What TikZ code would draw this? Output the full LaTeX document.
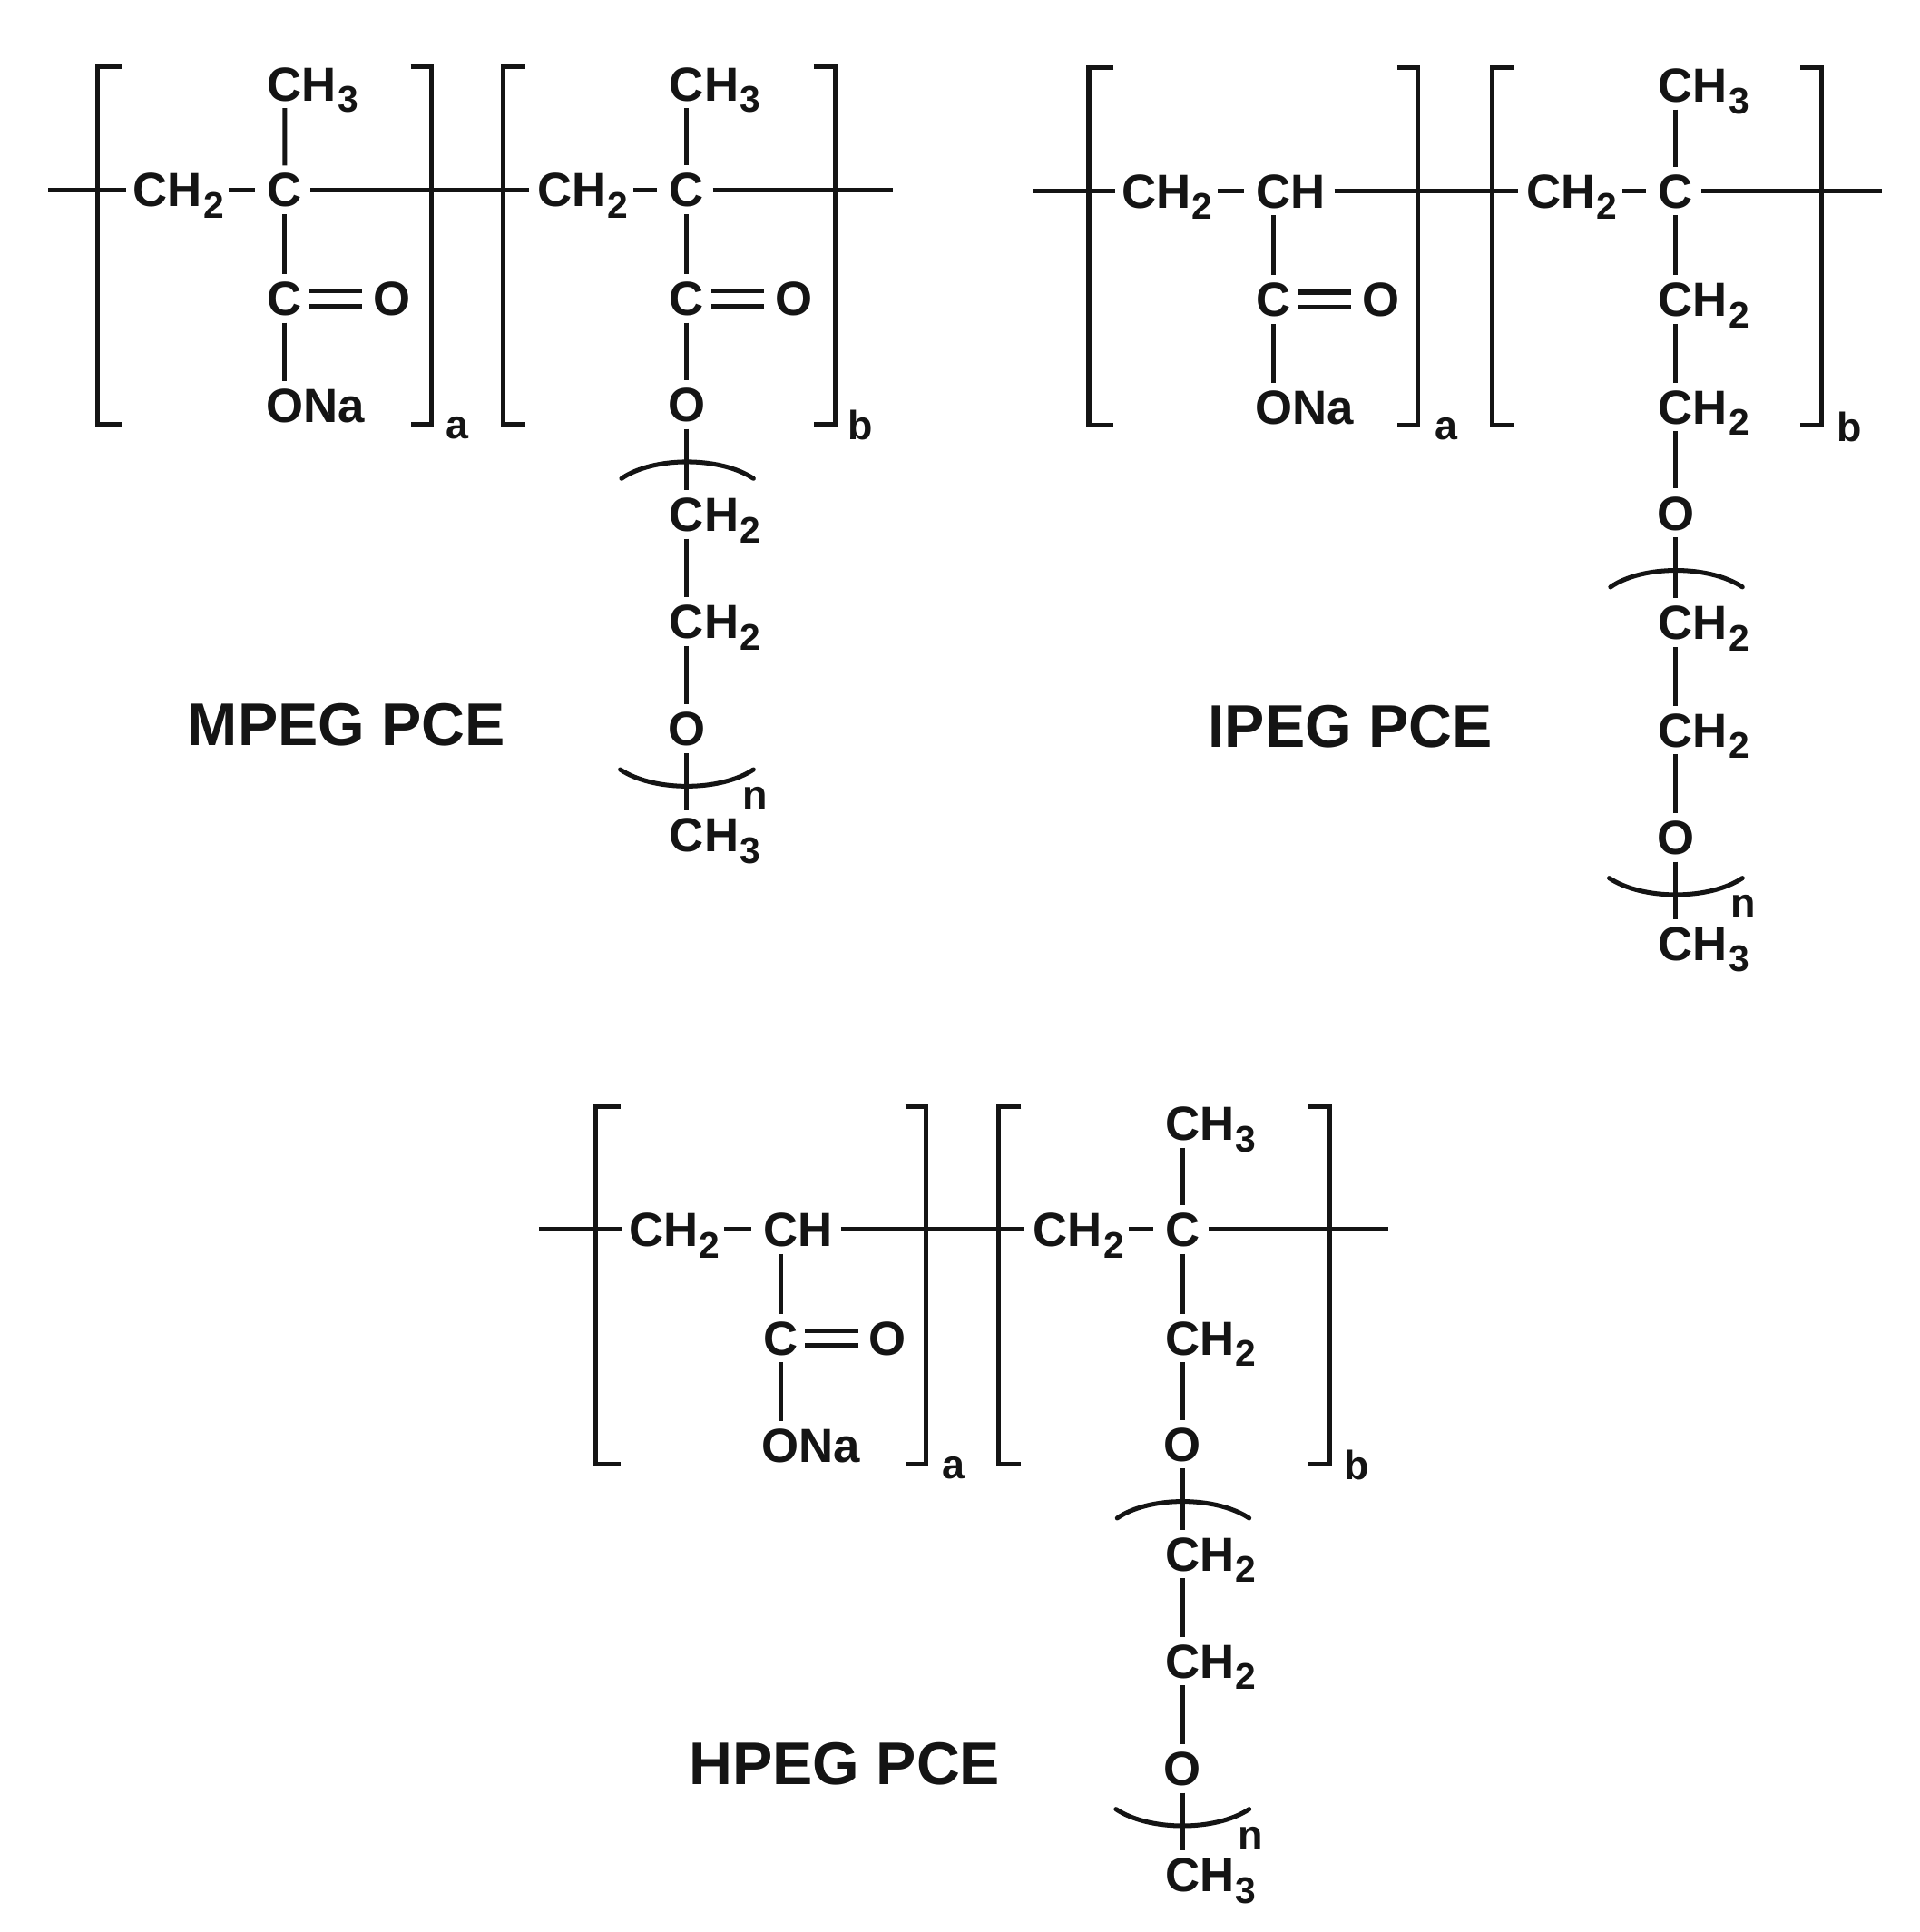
\documentclass[tikz,border=0pt]{standalone}
\usepackage{fontspec}
\setmainfont{Liberation Sans}
\usetikzlibrary{calc}
\newcommand\sbn[1]{\kern.4pt\raisebox{-.24em}{\fontsize{15}{15}\selectfont #1}}
\tikzset{
  chem/.style={inner sep=0pt,outer sep=0pt,text height=13.75pt,text depth=0pt,font=\fontsize{19.4}{20}\selectfont\bfseries,text=black!92},
  grp/.style={chem,anchor=west},
  idx/.style={inner sep=0pt,font=\fontsize{16.5}{17}\selectfont\bfseries,text=black!92},
  ttl/.style={inner sep=0pt,font=\fontsize{24.4}{26}\selectfont\bfseries,text=black!92},
  ln/.style={line width=1.85pt,black!92},
  hbond/.style={ln,shorten <=3.5pt,shorten >=3.5pt},
  vbond/.style={ln,shorten <=3pt,shorten >=3pt},
  dbond/.style={ln,double,double distance=4.2pt,shorten <=3pt,shorten >=4.5pt},
  arcline/.style={line width=1.85pt,black!92,line cap=round},
}
% brackets and labels; #1 = x of the first bracket, #2 = shift of the closing brackets
\newcommand\brackets[2]{%
  \draw[ln] (#1+20,54) -- (#1,54) -- (#1,344) -- (#1+20,344);
  \draw[ln] (333+#2,54) -- (350+#2,54) -- (350+#2,344) -- (333+#2,344);
  \draw[ln] (426,54) -- (408,54) -- (408,344) -- (426,344);
  \draw[ln] (660+#2,54) -- (677+#2,54) -- (677+#2,344) -- (660+#2,344);
  \node[idx] (la) at (371,347) {a};
  \node[idx] (lb) at (698,345) {b};
}
% backbone; #1 = text of the first backbone carbon, #2 = x of the free left end
\newcommand\backbone[2]{%
  \coordinate (start) at (#2,154);
  \coordinate (stop) at (724,154);
  \coordinate (axa) at (231,154);
  \coordinate (axb) at (557,154);
  \node[grp] (cha) at (108,154) {CH\sbn{2}};
  \node[grp] (ca) at (217,154) {#1};
  \node[grp] (chb) at (436,154) {CH\sbn{2}};
  \node[chem] (cb) at (557,154) {C};
  \draw[ln,shorten >=3pt] (start) -- (cha.west);
  \draw[ln,shorten <=2pt,shorten >=5pt] (cha.east) -- (ca.west);
  \draw[hbond] (ca.east) -- (chb.west);
  \draw[ln,shorten <=2pt,shorten >=5pt] (chb.east) -- (cb.west);
  \draw[ln,shorten <=3.5pt] (cb.east) -- (stop);
  \node[grp] (mb) at (543,68) {CH\sbn{3}};
  \draw[vbond] (axb |- mb.south) -- (cb.north);
}
% carboxylate of the first unit
\newcommand\acid{%
  \node[chem] (cc) at (231,242) {C};
  \node[chem] (co) at (318,242) {O};
  \node[grp] (na) at (216,329) {ONa};
  \draw[vbond] (axa |- ca.south) -- (cc.north);
  \draw[dbond] (cc.east) -- (co.west);
  \draw[vbond] (cc.south) -- (axa |- na.north);
}
% polyether arm hanging from node #1, with its first oxygen at height #2
\newcommand\pegarm[2]{%
  \node[grp] (pa) at (543,#2+88) {CH\sbn{2}};
  \node[grp] (pb) at (543,#2+175) {CH\sbn{2}};
  \node[chem] (po) at (557,#2+262) {O};
  \node[grp] (pm) at (543,#2+348) {CH\sbn{3}};
  \node[idx] (pn) at (612,#2+318) {n};
  \draw[vbond] (#1.south) -- (axb |- pa.north);
  \draw[vbond] (axb |- pa.south) -- (axb |- pb.north);
  \draw[vbond] (axb |- pb.south) -- (po.north);
  \draw[vbond] (po.south) -- (axb |- pm.north);
  \draw[arcline] (504,#2+59) .. controls (530,#2+41) and (584,#2+41) .. (611,#2+59);
  \draw[arcline] (503,#2+295) .. controls (530,#2+313) and (584,#2+313) .. (611,#2+295);
}
\begin{document}
\begin{tikzpicture}[x=.5pt,y=-.5pt]
\useasboundingbox[fill=white] (0,0) rectangle (1557,1566.6);

% MPEG PCE
\begin{scope}[name prefix=m-]
  \brackets{79}{0}
  \backbone{C}{39}
  \node[grp] (ma) at (217,68) {CH\sbn{3}};
  \draw[vbond] (axa |- ma.south) -- (ca.north);
  \acid
  \node[chem] (ec) at (557,242) {C};
  \node[chem] (eo) at (644,242) {O};
  \node[chem] (oz) at (557,328) {O};
  \draw[vbond] (axb |- cb.south) -- (ec.north);
  \draw[dbond] (ec.east) -- (eo.west);
  \draw[vbond] (ec.south) -- (oz.north);
  \pegarm{oz}{329}
  \node[ttl] (title) at (281,588) {MPEG PCE};
\end{scope}

% IPEG PCE
\begin{scope}[shift={(802,1)},name prefix=i-]
  \brackets{81}{-2}
  \backbone{CH}{36}
  \acid
  \node[grp] (ea) at (543,242) {CH\sbn{2}};
  \node[grp] (eb) at (543,329) {CH\sbn{2}};
  \node[chem] (oz) at (557,415) {O};
  \draw[vbond] (axb |- cb.south) -- (axb |- ea.north);
  \draw[vbond] (axb |- ea.south) -- (axb |- eb.north);
  \draw[vbond] (axb |- eb.south) -- (oz.north);
  \pegarm{oz}{416}
  \node[ttl] (title) at (293,588) {IPEG PCE};
\end{scope}

% HPEG PCE
\begin{scope}[shift={(402,843)},name prefix=h-]
  \brackets{81}{-1}
  \backbone{CH}{35}
  \acid
  \node[grp] (ea) at (543,242) {CH\sbn{2}};
  \node[chem] (oz) at (557,328) {O};
  \draw[vbond] (axb |- cb.south) -- (axb |- ea.north);
  \draw[vbond] (axb |- ea.south) -- (oz.north);
  \pegarm{oz}{329}
  \node[ttl] (title) at (283,587) {HPEG PCE};
\end{scope}
\end{tikzpicture}
\end{document}
